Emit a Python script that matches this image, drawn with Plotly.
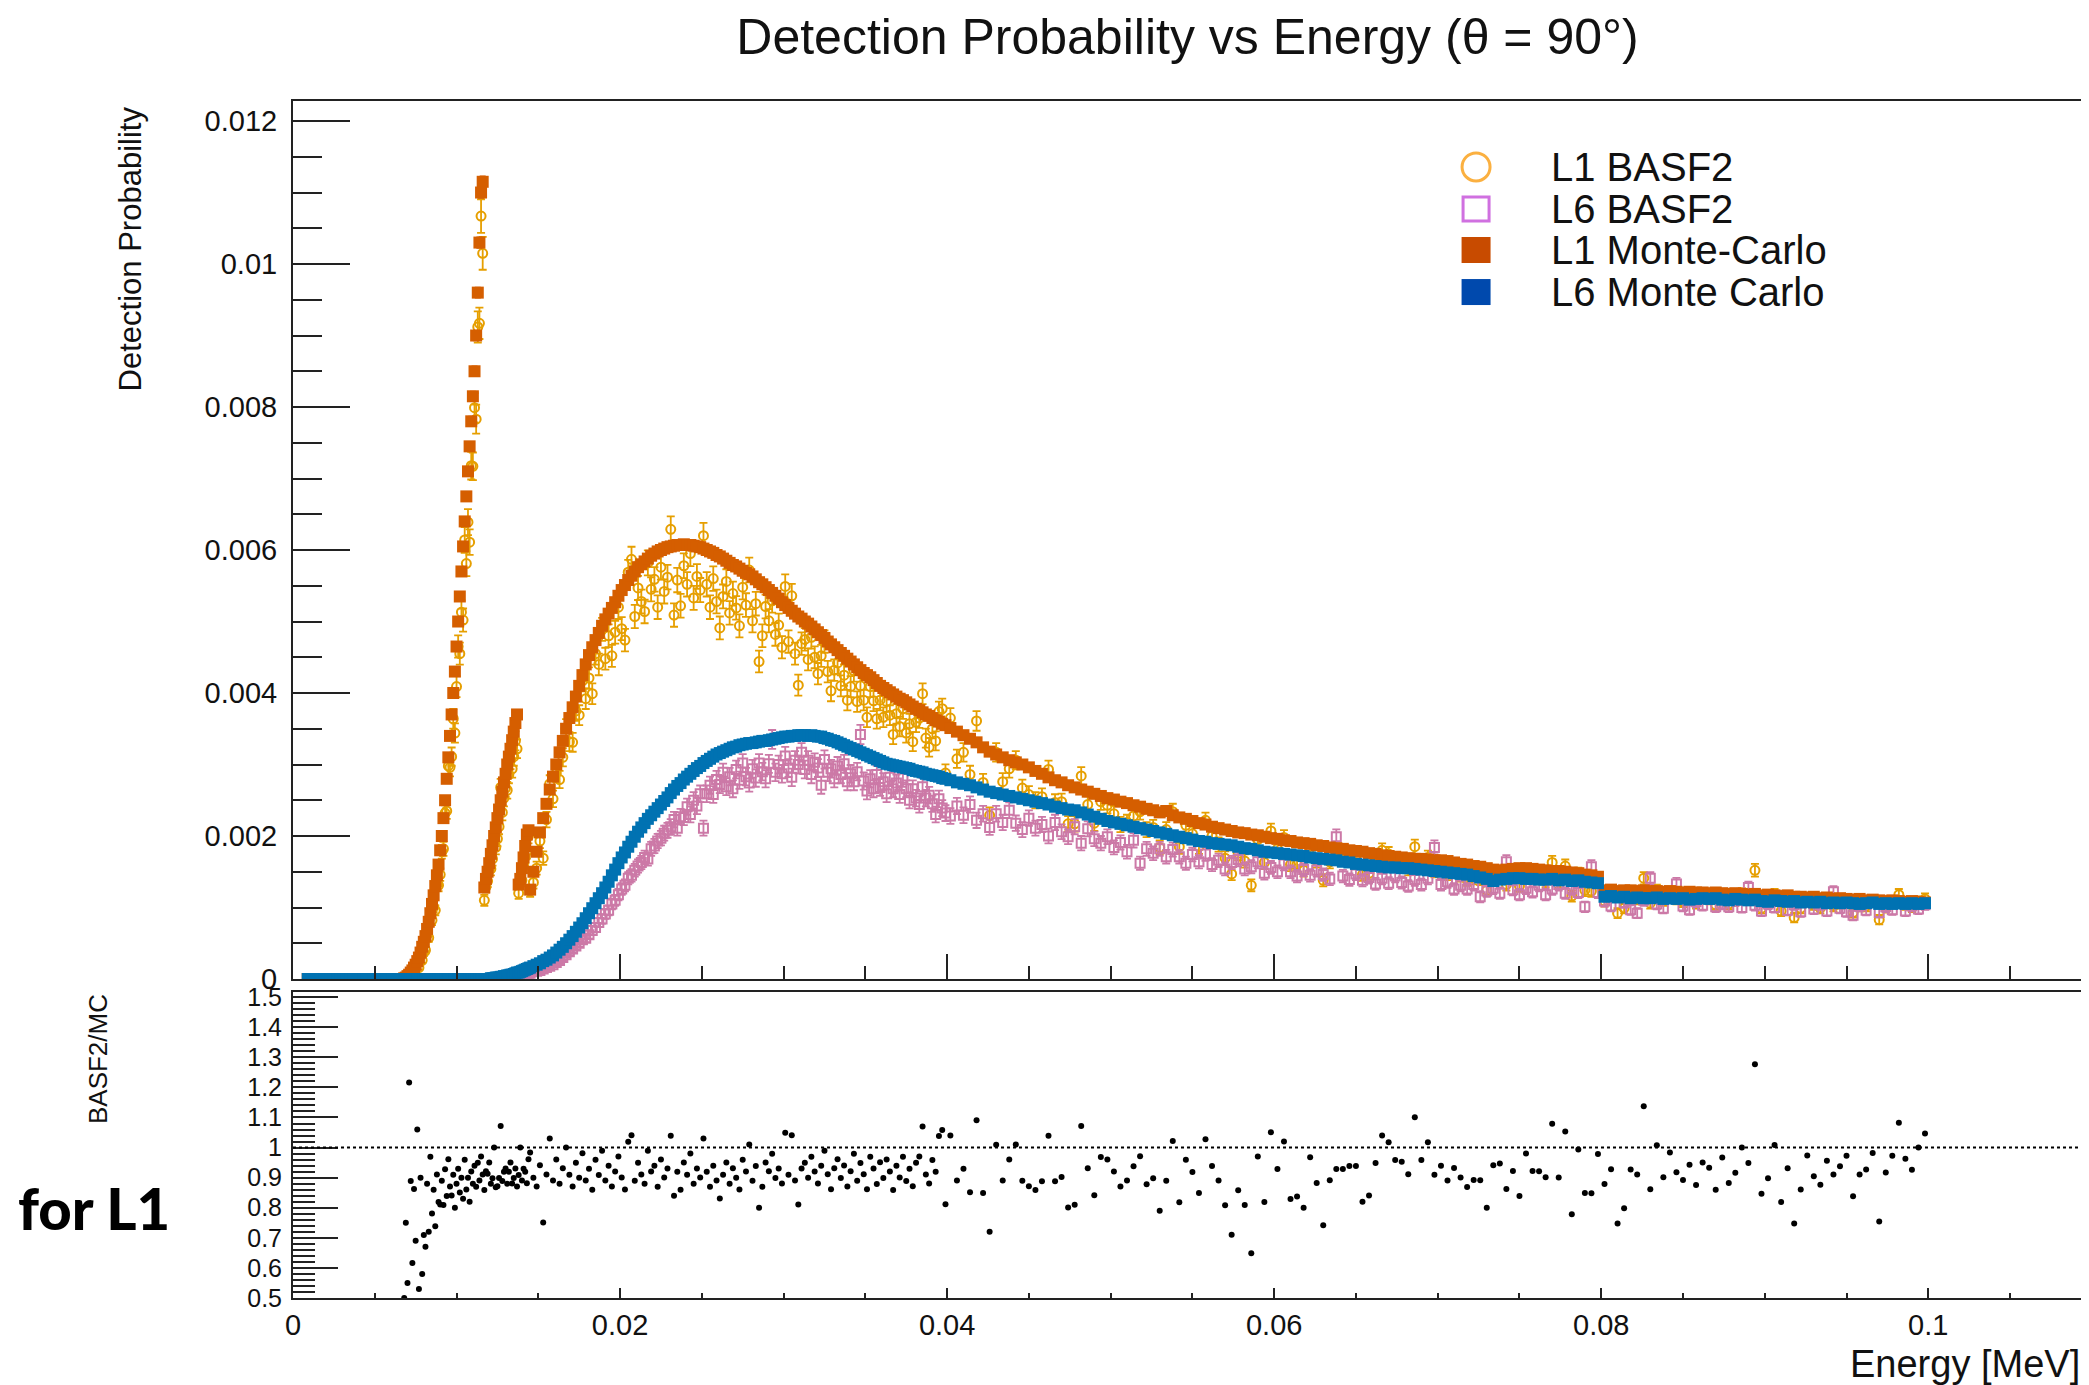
import numpy as np
import plotly.graph_objects as go

# energy points [MeV]: finer spacing across the absorption edges, coarser in the tail
energy = np.round(np.concatenate([0.0009 + 0.0002 * np.arange(30),
                                  0.0068 + 0.0001 * np.arange(78),
                                  0.0147 + 0.0002 * np.arange(127),
                                  0.0402 + 0.0004 * np.arange(150)]), 4)

# detection probabilities, stored in units of 1e-5
l1_mc_e5 = [0] * 30 + [
    1, 2, 4, 6, 9, 12, 16, 20, 25, 30,
    37, 45, 52, 60, 70, 80, 92, 105, 117, 130,
    145, 160, 180, 200, 225, 250, 280, 310, 340, 370,
    400, 430, 465, 500, 535, 570, 605, 640, 675, 710,
    745, 780, 815, 850, 900, 960, 1030, 1100, 1115, 128,
    140, 150, 162, 175, 187, 200, 212, 225, 237, 250,
    262, 275, 287, 300, 311, 322, 334, 346, 358, 370,
    132, 140, 155, 170, 186, 202, 208, 125,
    150,
    178, 205, 225, 245, 265, 283, 300, 317, 333, 350,
    365, 380, 395, 410, 425, 440, 453, 464, 474, 484,
    494, 503, 511, 519, 527, 536, 544, 551, 558, 564,
    570, 576, 580, 584, 588, 592, 595, 598, 600, 602,
    604, 605, 606, 607, 607, 608, 607, 607, 606, 605,
    604, 602, 600, 598, 596, 593, 591, 588, 585, 582,
    579, 577, 574, 571, 568, 566, 563, 559, 555, 552,
    548, 544, 540, 536, 532, 527, 523, 519, 515, 511,
    507, 504, 500, 497, 493, 489, 485, 481, 477, 472,
    468, 464, 460, 456, 452, 448, 444, 440, 436, 432,
    428, 425, 422, 418, 414, 410, 407, 404, 401, 398,
    395, 392, 390, 387, 384, 381, 378, 376, 373, 370,
    368, 365, 362, 360, 357, 355,
    351, 346, 341, 336, 331, 324, 318, 314, 310, 306,
    303, 300, 296, 291, 287, 282, 278, 275, 271, 268,
    265, 262, 259, 256, 253, 251, 248, 246, 243, 241,
    238, 236, 233, 235, 229, 226, 224, 221, 218, 216,
    213, 211, 209, 207, 205, 204, 202, 201, 199, 197,
    196, 194, 193, 191, 190, 189, 187, 186, 184, 183,
    182, 180, 179, 178, 176, 175, 173, 172, 171, 170,
    169, 168, 168, 167, 166, 166, 165, 163, 161, 160,
    158, 157, 155, 153, 152, 153, 154, 155, 155, 154,
    153, 152, 151, 151, 150, 149, 148, 146, 145, 143,
    124, 125, 123, 124, 124, 123, 124, 123, 123, 122,
    123, 122, 121, 122, 121, 121, 120, 121, 120, 119,
    120, 119, 118, 119, 117, 118, 117, 116, 117, 115,
    115, 114, 115, 113, 114, 112, 113, 112, 111, 112,
    110, 111, 110, 109, 110, 109, 108, 109, 108, 107]

l1_basf2_e5 = [0] * 30 + [
    0.5, 1.5, 2.2, 7.3, 8, 7.4, 13.8, 13.8, 26.5, 15.9,
    33.3, 26.1, 36.9, 40.2, 61.6, 57.6, 89.2, 82, 100.6, 96,
    132, 131, 146, 178, 182, 232, 235, 298, 296, 311,
    364, 344, 409, 465, 455, 513, 502, 614, 581, 639,
    611, 718, 717, 799, 783, 912, 917, 1067, 1015, 110,
    129, 137, 154, 154, 168, 200, 184, 196, 213, 268,
    233, 253, 267, 264, 286, 306, 294, 311, 333, 322,
    120, 140, 138, 158, 171, 178, 200, 123,
    135,
    155, 193, 169, 223, 273, 252, 288, 279, 310, 350,
    332, 331, 375, 369, 417, 392, 421, 399, 455, 440,
    489, 448, 480, 452, 485, 520, 490, 474, 569, 587,
    507, 547, 528, 514, 582, 545, 559, 520, 576, 542,
    562, 629, 509, 558, 522, 578, 552, 595, 533, 563,
    544, 620, 552, 520, 560, 528, 491, 535, 556, 512,
    539, 519, 494, 548, 523, 572, 501, 525, 444, 480,
    521, 501, 529, 482, 495, 464, 549, 472, 536, 455,
    411, 469, 475, 447, 478, 450, 427, 452, 472, 430,
    403, 432, 442, 410, 425, 390, 409, 431, 388, 410,
    390, 366, 409, 389, 364, 390, 366, 388, 369, 342,
    371, 353, 378, 344, 357, 332, 359, 365, 399, 337,
    324, 350, 333, 374, 378, 288,
    365, 308, 317, 286, 361, 275, 229, 317, 276, 294,
    306, 267, 258, 250, 255, 293, 247, 248, 217, 217,
    284, 244, 218, 248, 243, 231, 216, 219, 228, 234,
    209, 212, 184, 209, 234, 185, 215, 203, 185, 222,
    200, 188, 169, 147, 176, 165, 131, 195, 163, 207,
    182, 198, 160, 160, 152, 183, 165, 138, 164, 170,
    169, 169, 168, 146, 148, 166, 180, 175, 164, 162,
    154, 185, 161, 170, 151, 156, 147, 152, 145, 139,
    141, 140, 124, 144, 144, 132, 142, 130, 152, 142,
    141, 137, 163, 136, 158, 116, 147, 124, 123, 140,
    109, 116, 92, 99, 115, 112, 141, 106, 124, 110,
    121, 112, 108, 115, 106, 115, 112, 104, 116, 105,
    110, 119, 112, 152, 99, 106, 118, 95, 109, 86,
    99, 111, 104, 99, 109, 102, 106, 109, 93, 102,
    102, 109, 83, 100, 107, 118, 104, 101, 108, 112]

l6_mc_e5 = [0] * 83 + [
    1, 1, 1, 2, 2, 2, 3, 3, 4, 4,
    5, 5, 6, 6, 7, 8, 9, 9, 10, 11,
    12, 13, 14, 15, 16,
    18, 20, 22, 25, 27, 30, 33,
    37, 41, 45, 50, 55, 60, 66, 72, 78, 85,
    92, 99, 106, 113, 120, 128, 136, 145, 153, 162,
    170, 177, 185, 192, 199, 206, 212, 218, 224, 229,
    234, 239, 244, 249, 254, 260, 265, 270, 274, 279,
    283, 287, 291, 295, 298, 302, 305, 308, 311, 314,
    316, 318, 320, 322, 324, 325, 327, 328, 329, 330,
    330, 331, 332, 333, 333, 334, 335, 336, 337, 338,
    339, 339, 340, 340, 341, 341, 341, 340, 341, 340,
    339, 339, 337, 336, 334, 333, 331, 329, 327, 325,
    323, 321, 319, 317, 315, 313, 311, 309, 307, 305,
    303, 301, 300, 299, 298, 297, 296, 295, 294, 292,
    291, 290, 289, 287, 286, 285, 284, 283, 281, 280,
    278, 275, 273, 271, 268, 265, 262, 260, 258, 256,
    254, 252, 250, 248, 246, 244, 241, 239, 237, 236,
    233, 230, 227, 224, 221, 219, 217, 215, 213, 211,
    209, 207, 205, 203, 201, 199, 197, 195, 193, 192,
    190, 189, 188, 187, 185, 183, 182, 180, 178, 177,
    176, 175, 174, 173, 172, 170, 169, 168, 167, 166,
    164, 163, 161, 160, 159, 158, 157, 156, 156, 155,
    155, 154, 153, 152, 151, 150, 149, 148, 147, 146,
    144, 142, 140, 137, 139, 140, 141, 141, 140, 140,
    139, 139, 140, 138, 139, 137, 138, 136, 135, 134,
    115, 116, 114, 115, 113, 114, 113, 113, 114, 112,
    113, 112, 113, 111, 112, 113, 112, 113, 111, 110,
    112, 111, 110, 111, 109, 108, 110, 109, 108, 109,
    107, 108, 107, 108, 106, 107, 106, 107, 106, 105,
    106, 107, 105, 106, 105, 106, 105, 106, 105, 106]

l6_basf2_e5 = [0] * 91 + [
    1, 1, 2, 2, 2, 3, 3, 4, 4, 5,
    5, 6, 6, 7, 7, 8, 8,
    10,
    11, 12, 14, 16, 18, 20, 23, 26, 30, 34,
    38, 42, 46, 50, 55, 57, 62, 68, 72, 79,
    84, 91, 96, 105, 110, 118, 126, 131, 141, 145,
    152, 158, 163, 170, 168, 182, 186, 193, 197, 204,
    208, 213, 223, 211, 227, 226, 241, 230, 250, 242,
    259, 211, 259, 271, 258, 279, 272, 289, 269, 283,
    266, 293, 278, 302, 283, 274, 294, 281, 302, 290,
    280, 301, 335, 289, 300, 287, 312, 295, 282, 306,
    300, 317, 293, 306, 286, 303, 295, 271, 307, 289,
    294, 280, 298, 286, 301, 276, 287, 276, 290, 342,
    277, 263, 280, 266, 286, 268, 276, 259, 282, 266,
    274, 258, 281, 266, 250, 266, 253, 244, 269, 253,
    257, 245, 230, 252, 239, 232,
    228, 242, 229, 244, 222, 231, 212, 231, 219, 236,
    218, 209, 225, 211, 216, 200, 219, 206, 199, 213,
    190, 210, 196, 190, 199, 184, 191, 178, 194, 162,
    182, 176, 182, 171, 181, 171, 162, 174, 164, 175,
    160, 166, 154, 163, 167, 154, 157, 164, 148, 156,
    150, 161, 150, 144, 153, 145, 152, 146, 140, 199,
    144, 139, 147, 138, 142, 133, 141, 134, 144, 135,
    130, 139, 132, 141, 184, 132, 136, 126, 131, 126,
    132, 115, 123, 127, 120, 164, 125, 118, 127, 122,
    131, 118, 126, 132, 120, 126, 121, 101, 157, 121,
    109, 102, 116, 107, 97, 92, 110, 141, 105, 99,
    118, 133, 102, 97, 108, 103, 115, 101, 105, 101,
    110, 100, 128, 103, 95, 105, 100, 111, 96, 104,
    94, 108, 98, 104, 95, 122, 99, 94, 89, 102,
    96, 110, 93, 101, 97, 107, 95, 102, 98, 104]

for arr in (l1_mc_e5, l1_basf2_e5, l6_mc_e5, l6_basf2_e5):
    assert len(arr) == len(energy), len(arr)

l1_mc = np.array(l1_mc_e5) * 1e-5
l1_basf2 = np.array(l1_basf2_e5) * 1e-5
l6_mc = np.array(l6_mc_e5) * 1e-5
l6_basf2 = np.array(l6_basf2_e5) * 1e-5

# binomial errors from number of generated photons per point
N_BASF2 = 190000
N_MC = 2000000
def binom_err(p, n):
    return np.sqrt(p * (1 - p) / n)

# ratio panel: BASF2 / MC for L1
ratio = np.full(len(energy), np.nan)
ok = l1_mc > 0
ratio[ok] = l1_basf2[ok] / l1_mc[ok]

C_L1B = "#E69F00"
C_L6B = "#CC79A7"
C_L1M = "#D55E00"
C_L6M = "#0072B2"
FONT = "Liberation Sans, Arial, Helvetica, sans-serif"
INK = "#222222"

fig = go.Figure()
fig.add_trace(go.Scatter(
    x=energy, y=l1_basf2, mode="markers", name="L1 BASF2",
    marker=dict(symbol="circle-open", size=9, color=C_L1B, line=dict(width=2)),
    error_y=dict(type="data", array=binom_err(l1_basf2, N_BASF2), color=C_L1B, thickness=1.8, width=4),
    xaxis="x", yaxis="y"))
fig.add_trace(go.Scatter(
    x=energy, y=l6_basf2, mode="markers", name="L6 BASF2",
    marker=dict(symbol="square-open", size=9, color=C_L6B, line=dict(width=2)),
    error_y=dict(type="data", array=binom_err(l6_basf2, N_BASF2), color=C_L6B, thickness=1.8, width=4),
    xaxis="x", yaxis="y"))
fig.add_trace(go.Scatter(
    x=energy, y=l1_mc, mode="markers", name="L1 Monte-Carlo",
    marker=dict(symbol="square", size=12, color=C_L1M),
    error_y=dict(type="data", array=binom_err(l1_mc, N_MC), color=C_L1M, thickness=2, width=3),
    xaxis="x", yaxis="y"))
fig.add_trace(go.Scatter(
    x=energy, y=l6_mc, mode="markers", name="L6 Monte Carlo",
    marker=dict(symbol="square", size=12, color=C_L6M),
    error_y=dict(type="data", array=binom_err(l6_mc, N_MC), color=C_L6M, thickness=2, width=3),
    xaxis="x", yaxis="y"))
fig.add_trace(go.Scatter(
    x=energy, y=ratio, mode="markers", name="BASF2/MC",
    marker=dict(symbol="circle", size=6, color="black"),
    xaxis="x2", yaxis="y2"))

frame = dict(showline=True, linecolor=INK, linewidth=2, mirror=True, automargin=False,
             showgrid=False, zeroline=False, ticks="inside", tickcolor=INK, tickwidth=2)

# the page body adds an 8 px offset, so the figure is 8 px smaller than the window
fig.update_layout(
    width=2081, height=1377,
    margin=dict(l=285, r=7, t=93, b=87),
    paper_bgcolor="white", plot_bgcolor="white",
    showlegend=False,
    font=dict(family=FONT, size=29, color="#111111"),
    title=dict(text="Detection Probability vs Energy (θ = 90°)",
               x=0.5, xref="paper", xanchor="center",
               y=1 - 28 / 1377, yref="container", yanchor="middle",
               font=dict(family=FONT, size=50, color="#111111")),
    xaxis=dict(frame, domain=[0, 1], anchor="y", range=[0, 0.1094],
               tick0=0, dtick=0.02, ticklen=25, showticklabels=False,
               minor=dict(ticks="inside", tick0=0, dtick=0.005, ticklen=13,
                          tickcolor=INK, tickwidth=2)),
    yaxis=dict(frame, domain=[0.2665, 1], anchor="x", range=[0, 0.01228],
               tick0=0, dtick=0.002, ticklen=57, ticklabelstandoff=8,
               tickfont=dict(size=29),
               minor=dict(ticks="inside", tick0=0, dtick=0.0005, ticklen=29,
                          tickcolor=INK, tickwidth=2)),
    xaxis2=dict(frame, domain=[0, 1], anchor="y2", range=[0, 0.1094], matches="x",
                tick0=0, dtick=0.02, ticklen=10, tickfont=dict(size=29),
                minor=dict(ticks="inside", tick0=0, dtick=0.005, ticklen=5,
                           tickcolor=INK, tickwidth=2)),
    yaxis2=dict(frame, domain=[0, 0.2556], anchor="x2", range=[0.5, 1.517],
                tick0=0.5, dtick=0.1, ticklen=45, ticklabelstandoff=4,
                tickfont=dict(size=25),
                minor=dict(ticks="inside", tick0=0.5, dtick=0.02, ticklen=22,
                           tickcolor=INK, tickwidth=2)),
)

# dotted unity line in the ratio pad
fig.add_shape(type="line", xref="x2 domain", yref="y2", x0=0, x1=1, y0=1, y1=1,
              line=dict(color="black", width=2, dash="dot"))

# legend drawn as in the ROOT canvas
leg_x, txt_x = 0.6613, 0.7021
leg_rows = [0.9449, 0.9098, 0.8755, 0.8404]
leg_labels = ["L1 BASF2", "L6 BASF2", "L1 Monte-Carlo", "L6 Monte Carlo"]
fig.add_shape(type="circle", xref="paper", yref="paper", xsizemode="pixel", ysizemode="pixel",
              xanchor=leg_x, yanchor=leg_rows[0], x0=-14, x1=14, y0=-14, y1=14,
              line=dict(color="#FBB040", width=3), fillcolor="rgba(0,0,0,0)")
fig.add_shape(type="rect", xref="paper", yref="paper", xsizemode="pixel", ysizemode="pixel",
              xanchor=leg_x, yanchor=leg_rows[1], x0=-13, x1=13, y0=-12, y1=12,
              line=dict(color="#D070E0", width=3), fillcolor="rgba(0,0,0,0)")
fig.add_shape(type="rect", xref="paper", yref="paper", xsizemode="pixel", ysizemode="pixel",
              xanchor=leg_x, yanchor=leg_rows[2], x0=-14.5, x1=14.5, y0=-13, y1=13,
              line=dict(width=0), fillcolor="#C84B00")
fig.add_shape(type="rect", xref="paper", yref="paper", xsizemode="pixel", ysizemode="pixel",
              xanchor=leg_x, yanchor=leg_rows[3], x0=-14.5, x1=14.5, y0=-13, y1=13,
              line=dict(width=0), fillcolor="#0049AD")
for yy, lab in zip(leg_rows, leg_labels):
    fig.add_annotation(text=lab, xref="paper", yref="paper", x=txt_x, y=yy,
                       xanchor="left", yanchor="middle", showarrow=False,
                       font=dict(family=FONT, size=40, color="#111111"))

# axis titles
fig.add_annotation(text="Detection Probability", xref="paper", yref="paper",
                   x=-0.0906, y=0.9975, xanchor="center", yanchor="top", textangle=-90,
                   showarrow=False, font=dict(family=FONT, size=31, color="#111111"))
fig.add_annotation(text="BASF2/MC", xref="paper", yref="paper",
                   x=-0.109, y=0.2556, xanchor="center", yanchor="top", textangle=-90,
                   showarrow=False, font=dict(family=FONT, size=26, color="#111111"))
fig.add_annotation(text="Energy [MeV]", xref="paper", yref="paper",
                   x=1, y=-0.0551, xanchor="right", yanchor="middle",
                   showarrow=False, font=dict(family=FONT, size=38, color="#111111"))
fig.add_annotation(text="for L1", xref="paper", yref="paper",
                   x=-0.1548, y=0.0752, xanchor="left", yanchor="middle",
                   showarrow=False, font=dict(family="Lato, Inter, sans-serif", size=58,
                                              color="black", weight=900))

fig.write_html("out.html")
